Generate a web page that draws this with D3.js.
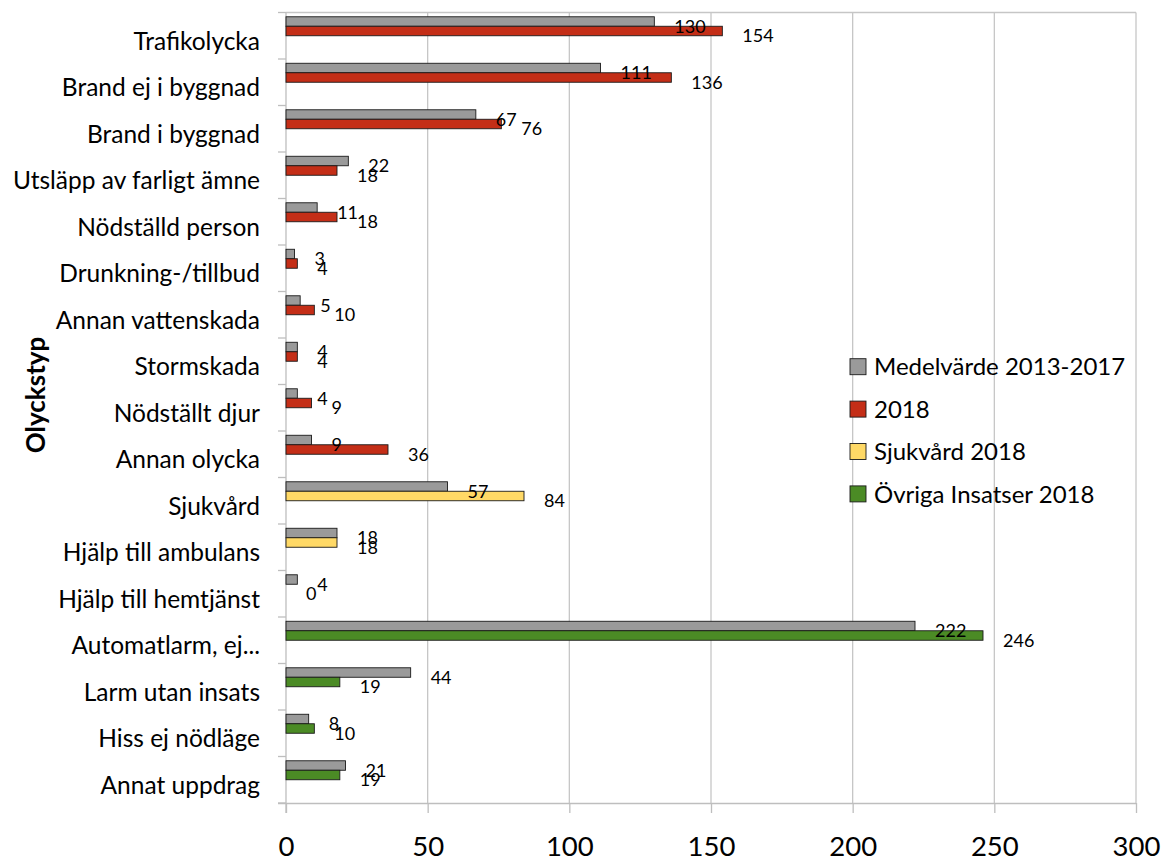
<!DOCTYPE html>
<html>
<head>
<meta charset="utf-8">
<script src="https://cdn.jsdelivr.net/npm/d3@7"></script>
<style>
  html, body { margin: 0; padding: 0; background: #fff; }
  svg { display: block; font-family: Lato, "Open Sans", sans-serif; }
</style>
</head>
<body>
<svg id="chart" width="1163" height="867"></svg>
<script>
(function () {
// ---- data ----
const categories = [
  "Trafikolycka", "Brand ej i byggnad", "Brand i byggnad", "Utsläpp av farligt ämne",
  "Nödställd person", "Drunkning-/tillbud", "Annan vattenskada", "Stormskada",
  "Nödställt djur", "Annan olycka", "Sjukvård", "Hjälp till ambulans",
  "Hjälp till hemtjänst", "Automatlarm, ej...", "Larm utan insats", "Hiss ej nödläge",
  "Annat uppdrag"
];
const medelvarde = [130, 111, 67, 22, 11, 3, 5, 4, 4, 9, 57, 18, 4, 222, 44, 8, 21];
const ar2018 =     [154, 136, 76, 18, 18, 4, 10, 4, 9, 36, null, null, null, null, null, null, null];
const sjukvard2018 = [null, null, null, null, null, null, null, null, null, null, 84, 18, 0, null, null, null, null];
const ovriga2018 =   [null, null, null, null, null, null, null, null, null, null, null, null, null, 246, 19, 10, 19];
const seriesNames = ["Medelvärde 2013-2017", "2018", "Sjukvård 2018", "Övriga Insatser 2018"];
const xTicks = [0, 50, 100, 150, 200, 250, 300];
const yTitle = "Olyckstyp";

// ---- styles ----
const colors = ["#9A9A9A", "#C42E17", "#FFD966", "#4B8B25"];
const slotOf = ["s0", "s1", "s1", "s1"];

const svg = d3.select("#chart");
const pL = 286, pR = 1136, pT = 12.5, pB = 803;

const x = d3.scaleLinear().domain([0, 300]).range([pL, pR]);
const y = d3.scaleBand().domain(categories).range([pT, pB]).paddingInner(0).paddingOuter(0);
const sub = d3.scaleBand().domain(["s0", "s1", "s2", "s3"]).range([0, y.bandwidth()]).paddingOuter(0.45).paddingInner(0);

const series = [medelvarde, ar2018, sjukvard2018, ovriga2018];

// gridlines
svg.append("g")
  .selectAll("line")
  .data(xTicks.filter(t => t > 0))
  .join("line")
  .attr("x1", d => x(d)).attr("x2", d => x(d))
  .attr("y1", pT).attr("y2", pB)
  .attr("stroke", "#C6C6C6").attr("stroke-width", 1.3);

// top border
svg.append("line")
  .attr("x1", pL).attr("x2", pR).attr("y1", pT).attr("y2", pT)
  .attr("stroke", "#C6C6C6").attr("stroke-width", 1.3);

// x axis
const xAxis = svg.append("g")
  .attr("transform", `translate(0,${pB})`)
  .call(d3.axisBottom(x).tickValues(xTicks).tickSize(10).tickPadding(23).tickSizeOuter(0));
xAxis.select(".domain").attr("stroke", "#BEBEBE").attr("stroke-width", 1.3)
  .attr("d", `M${pL - 8},0.5H${pR}`);
xAxis.selectAll(".tick line").attr("stroke", "#BEBEBE").attr("stroke-width", 1.3);
xAxis.selectAll(".tick text").attr("font-size", 27.5).attr("fill", "#000")
  .attr("font-family", "Lato, sans-serif");

// y axis line + ticks at band boundaries
const yAxisG = svg.append("g");
yAxisG.append("line")
  .attr("x1", pL).attr("x2", pL).attr("y1", pT).attr("y2", pB + 10)
  .attr("stroke", "#BEBEBE").attr("stroke-width", 1.3);
const boundaries = categories.map(c => y(c)).concat([pB]);
yAxisG.selectAll("line.yt").data(boundaries).join("line")
  .attr("class", "yt")
  .attr("x1", pL - 8).attr("x2", pL)
  .attr("y1", d => d).attr("y2", d => d)
  .attr("stroke", "#BEBEBE").attr("stroke-width", 1.3);

// category labels
yAxisG.selectAll("text.cat").data(categories).join("text")
  .attr("class", "cat")
  .attr("x", 260)
  .attr("y", d => y(d) + 37)
  .attr("text-anchor", "end")
  .attr("font-size", 24.5)
  .attr("fill", "#000")
  .text(d => d);

// y title
svg.append("text")
  .attr("transform", "translate(45,395) rotate(-90)")
  .attr("text-anchor", "middle")
  .attr("font-size", 26)
  .attr("font-weight", "bold")
  .attr("fill", "#000")
  .text(yTitle);

// bars
series.forEach((vals, si) => {
  const g = svg.append("g");
  const data = categories.map((c, i) => ({ c, v: vals[i] })).filter(d => d.v !== null);
  g.selectAll("rect").data(data).join("rect")
    .attr("x", x(0))
    .attr("y", d => y(d.c) + sub(slotOf[si]))
    .attr("width", d => x(d.v) - x(0))
    .attr("height", sub.bandwidth())
    .attr("fill", colors[si])
    .attr("stroke", "#1a1a1a")
    .attr("stroke-width", 0.9);
});

// data labels
series.forEach((vals, si) => {
  const g = svg.append("g");
  const data = categories.map((c, i) => ({ c, v: vals[i] })).filter(d => d.v !== null);
  g.selectAll("text").data(data).join("text")
    .attr("x", d => x(d.v) + 20)
    .attr("y", d => y(d.c) + sub(slotOf[si]) + sub.bandwidth())
    .attr("dy", "0.36em")
    .attr("font-size", 18)
    .attr("fill", "#000")
    .text(d => d.v);
});

// legend
const legend = svg.append("g").attr("transform", "translate(850,366.7)");
const li = legend.selectAll("g").data(seriesNames).join("g")
  .attr("transform", (d, i) => `translate(0,${i * 42.4})`);
li.append("rect")
  .attr("x", 0).attr("y", -8).attr("width", 16).attr("height", 16)
  .attr("fill", (d, i) => colors[i]).attr("stroke", "#1a1a1a").attr("stroke-width", 0.9);
li.append("text")
  .attr("x", 24).attr("y", 0).attr("dy", "0.36em")
  .attr("font-size", 24)
  .attr("fill", "#000")
  .text(d => d);
})();
</script>
</body>
</html>
